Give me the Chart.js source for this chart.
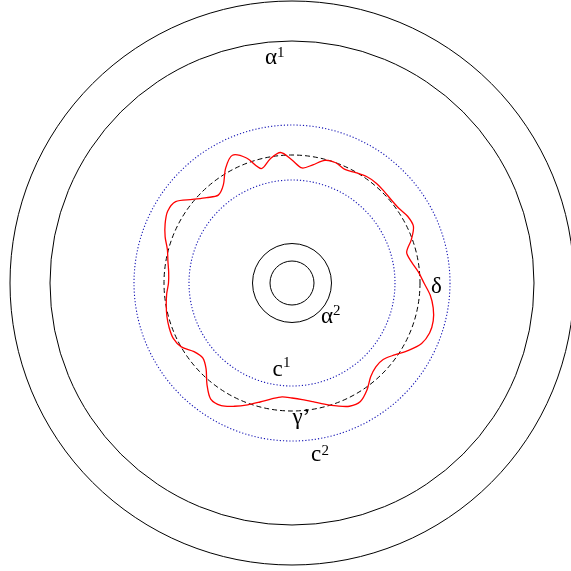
<!DOCTYPE html>
<html>
<head>
<meta charset="utf-8">
<script src="https://cdn.jsdelivr.net/npm/chart.js@4.4.0/dist/chart.umd.min.js"></script>
<style>
  html, body { margin: 0; padding: 0; background: #fff; }
  #wrap { width: 571px; height: 571px; }
</style>
</head>
<body>
<div id="wrap"><canvas id="chart" width="571" height="571"></canvas></div>
<script>
// angle of each reading of the curve delta, degrees clockwise from the top
const angles = [
  0, 5, 10, 15, 20, 25, 30, 35, 40, 45, 50, 55,
  60, 65, 70, 75, 80, 85, 90, 95, 100, 105, 110, 115,
  120, 125, 130, 135, 140, 145, 150, 155, 160, 165, 170, 175,
  180, 185, 190, 195, 200, 205, 210, 215, 220, 225, 230, 235,
  240, 245, 250, 255, 260, 265, 270, 275, 280, 285, 290, 295,
  300, 305, 310, 315, 320, 325, 330, 335, 340, 345, 350, 355
];

// distance of delta from the centre at each angle
const deltaRadius = [
  123, 115.5, 120, 127, 128, 125.3, 127.4, 130, 130.6, 130, 129.5, 130.4,
  133.5, 134, 127, 118.7, 121.3, 126.8, 132, 138.7, 143.4, 146.2, 146.4, 143,
  134.6, 125.3, 119, 118.6, 122.4, 130.7, 136.8, 136, 130.8, 125.4, 120.5, 117,
  115, 114.3, 117.7, 123.2, 129.7, 136, 141.5, 141.7, 132.3, 121.5, 116.5, 119.6,
  127.8, 131, 130.7, 129.5, 127.7, 125.8, 123.5, 123.8, 126, 129, 135, 140,
  143.6, 142, 130, 120.7, 114.7, 119.7, 132.7, 141, 133, 118.5, 126, 131
];

// the concentric circles, by radius
const ringRadii = [22, 39.5, 103, 128, 158, 242, 282];

const ringStyles = [
  {color: '#000000', width: 1, dash: []},         // alpha2, inner
  {color: '#000000', width: 1, dash: []},         // alpha2, outer
  {color: '#1414b4', width: 1.1, dash: [1.2, 2]}, // c1
  {color: '#000000', width: 1, dash: [5, 3]},     // gamma'
  {color: '#1414b4', width: 1.1, dash: [1.2, 2]}, // c2
  {color: '#000000', width: 1, dash: []},         // alpha1
  {color: '#000000', width: 1, dash: []}          // outer
];

// names on the picture, baseline-left offsets from the centre
const names = [
  {text: 'α', x: -27, y: -219.5, sup: '1', sx: -15, sy: -226.5},
  {text: 'α', x: 29, y: 40, sup: '2', sx: 41, sy: 31.5},
  {text: 'c', x: -19.5, y: 92.5, sup: '1', sx: -9, sy: 83.5},
  {text: 'γ’', x: 0.5, y: 140.5},
  {text: 'c', x: 19, y: 178.2, sup: '2', sx: 29.5, sy: 171.5},
  {text: 'δ', x: 139, y: 9.5}
];

function ringStyle(ctx) {
  const i = ctx.tick ? ringRadii.indexOf(ctx.tick.value) : -1;
  return i < 0 ? {color: 'rgba(0,0,0,0)', width: 0, dash: []} : ringStyles[i];
}

const namePlugin = {
  id: 'names',
  afterDraw(chart) {
    const s = chart.scales.r;
    const k = s.getDistanceFromCenterForValue(1) - s.getDistanceFromCenterForValue(0);
    const ctx = chart.ctx;
    ctx.save();
    ctx.fillStyle = '#000';
    ctx.textBaseline = 'alphabetic';
    ctx.textAlign = 'left';
    names.forEach(n => {
      ctx.font = '23px "Liberation Serif"';
      ctx.fillText(n.text, s.xCenter + n.x * k, s.yCenter + n.y * k);
      if (n.sup) {
        ctx.font = '15px "Liberation Serif"';
        ctx.fillText(n.sup, s.xCenter + n.sx * k, s.yCenter + n.sy * k);
      }
    });
    ctx.restore();
  }
};

new Chart(document.getElementById('chart').getContext('2d'), {
  type: 'radar',
  data: {
    labels: angles.map(a => a + '°'),
    datasets: [{
      label: 'δ',
      data: deltaRadius,
      borderColor: '#ff0000',
      borderWidth: 1.3,
      backgroundColor: 'rgba(0,0,0,0)',
      fill: false,
      pointRadius: 0,
      pointHoverRadius: 0,
      tension: 0.3
    }]
  },
  options: {
    responsive: false,
    animation: false,
    layout: {padding: {left: 14, right: 0, top: 0, bottom: 4}},
    plugins: {
      legend: {display: false},
      tooltip: {enabled: false}
    },
    scales: {
      r: {
        min: 0,
        max: 278,
        afterBuildTicks: scale => {
          scale.ticks = [0].concat(ringRadii).map(v => ({value: v}));
        },
        ticks: {display: false},
        pointLabels: {display: false},
        angleLines: {display: false},
        grid: {
          circular: true,
          color: ctx => ringStyle(ctx).color,
          lineWidth: ctx => ringStyle(ctx).width
        },
        border: {
          dash: ctx => ringStyle(ctx).dash
        }
      }
    }
  },
  plugins: [namePlugin]
});
</script>
</body>
</html>
